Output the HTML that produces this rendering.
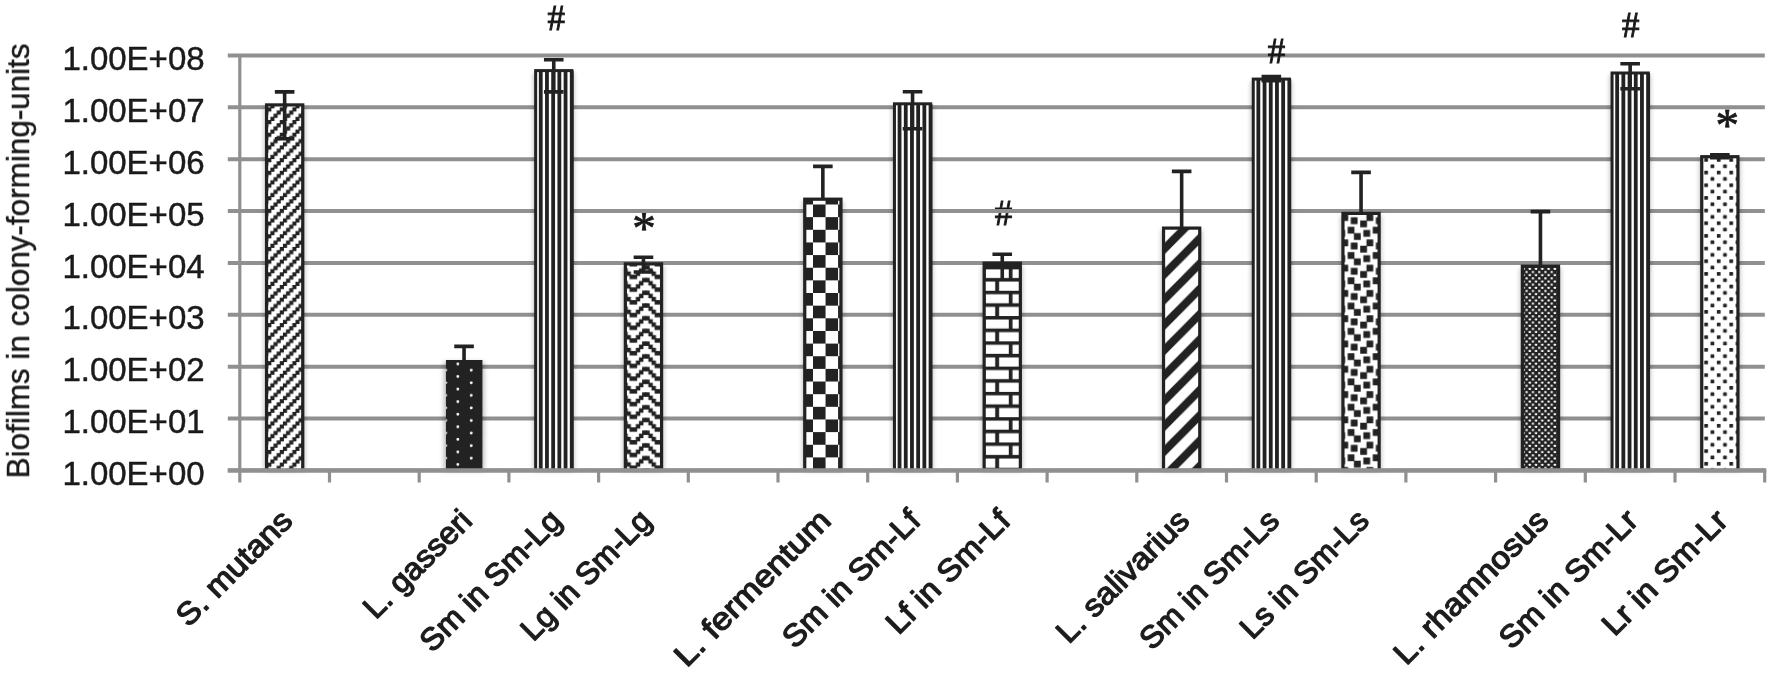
<!DOCTYPE html>
<html lang="en"><head><meta charset="utf-8"><title>Biofilms in colony-forming-units</title>
<style>
html,body{margin:0;padding:0;background:#fff;}
body{width:1772px;height:673px;overflow:hidden;}
svg{display:block;}
.yl{font-family:"Liberation Sans",sans-serif;font-size:33px;fill:#1a1a1a;stroke:#1a1a1a;stroke-width:0.45px;}
.yt{font-family:"Liberation Sans",sans-serif;font-size:30.6px;fill:#1a1a1a;stroke:#1a1a1a;stroke-width:0.4px;}
.xl{font-family:"Liberation Sans",sans-serif;font-size:31px;fill:#1c1c1c;stroke:#1c1c1c;stroke-width:1.3px;stroke-linejoin:round;}
.hs{font-family:"Liberation Serif",serif;font-size:35px;fill:#1a1a1a;stroke:#1a1a1a;stroke-width:0.9px;}
.as{font-family:"Liberation Serif",serif;font-size:47px;fill:#1a1a1a;stroke:#1a1a1a;stroke-width:0.8px;}
</style></head><body>
<svg width="1772" height="673" viewBox="0 0 1772 673">
<rect x="0" y="0" width="1772" height="673" fill="#fff"/>
<defs>
<filter id="sh" x="-40%" y="-5%" width="180%" height="110%"><feGaussianBlur stdDeviation="2.6"/></filter>
<filter id="soft" x="0" y="0" width="100%" height="100%" filterUnits="userSpaceOnUse"><feGaussianBlur stdDeviation="0.45"/></filter>
<pattern id="pDiag" patternUnits="userSpaceOnUse" x="1.27" y="0.00" width="12.540" height="12.688">
<rect x="0" y="0" width="12.540" height="12.688" fill="#fff"/>
<rect x="-3.635" y="-0.500" width="4.135" height="4.172" fill="#222"/><rect x="-3.635" y="12.188" width="4.135" height="4.172" fill="#222"/><rect x="8.905" y="-0.500" width="4.135" height="4.172" fill="#222"/><rect x="8.905" y="12.188" width="4.135" height="4.172" fill="#222"/><rect x="5.770" y="2.672" width="4.135" height="4.172" fill="#222"/><rect x="2.635" y="5.844" width="4.135" height="4.172" fill="#222"/><rect x="-0.500" y="-3.672" width="4.135" height="4.172" fill="#222"/><rect x="-0.500" y="9.016" width="4.135" height="4.172" fill="#222"/><rect x="12.040" y="-3.672" width="4.135" height="4.172" fill="#222"/><rect x="12.040" y="9.016" width="4.135" height="4.172" fill="#222"/>
</pattern>
<pattern id="pDots" patternUnits="userSpaceOnUse" x="444.30" y="362.62" width="25.600" height="12.570">
<rect x="0" y="0" width="25.600" height="12.570" fill="#222"/>
<rect x="12.25" y="0" width="2.6" height="2.6" fill="#fff" rx="0.8"/><rect x="0" y="6.28" width="2.6" height="2.6" fill="#fff" rx="0.8"/>
</pattern>
<pattern id="pZig" patternUnits="userSpaceOnUse" x="645.90" y="278.50" width="25.080" height="12.720">
<rect x="0" y="0" width="25.080" height="12.720" fill="#fff"/>
<rect x="-0.650" y="-0.650" width="4.435" height="4.480" fill="#222"/><rect x="-0.650" y="12.070" width="4.435" height="4.480" fill="#222"/><rect x="24.430" y="-0.650" width="4.435" height="4.480" fill="#222"/><rect x="24.430" y="12.070" width="4.435" height="4.480" fill="#222"/><rect x="-3.785" y="-0.650" width="4.435" height="4.480" fill="#222"/><rect x="-3.785" y="12.070" width="4.435" height="4.480" fill="#222"/><rect x="21.295" y="-0.650" width="4.435" height="4.480" fill="#222"/><rect x="21.295" y="12.070" width="4.435" height="4.480" fill="#222"/><rect x="2.485" y="2.530" width="4.435" height="4.480" fill="#222"/><rect x="18.160" y="2.530" width="4.435" height="4.480" fill="#222"/><rect x="5.620" y="5.710" width="4.435" height="4.480" fill="#222"/><rect x="15.025" y="5.710" width="4.435" height="4.480" fill="#222"/><rect x="8.755" y="-3.830" width="7.570" height="4.480" fill="#222"/><rect x="8.755" y="8.890" width="7.570" height="4.480" fill="#222"/>
</pattern>
<pattern id="pChk" patternUnits="userSpaceOnUse" x="813.00" y="204.50" width="25.080" height="25.290">
<rect x="0" y="0" width="25.080" height="25.290" fill="#fff"/>
<rect x="0" y="0" width="12.54" height="12.645" fill="#222"/><rect x="12.54" y="12.645" width="12.54" height="12.645" fill="#222"/>
</pattern>
<pattern id="pBrk" patternUnits="userSpaceOnUse" x="1008.80" y="265.50" width="26.800" height="25.280">
<rect x="0" y="0" width="26.800" height="25.280" fill="#fff"/>
<rect x="0" y="-0.15" width="26.8" height="3.6" fill="#222"/><rect x="0" y="12.49" width="26.8" height="3.6" fill="#222"/><rect x="-0.2" y="0" width="3.9" height="12.7" fill="#222"/><rect x="13.2" y="12.64" width="3.9" height="12.64" fill="#222"/>
</pattern>
<pattern id="pWide" patternUnits="userSpaceOnUse" x="0.00" y="6.70" width="25.080" height="25.290">
<rect x="0" y="0" width="25.080" height="25.290" fill="#fff"/>
<path d="M-5.02 30.35 L30.10 -5.06 M-5.02 5.06 L5.02 -5.06 M20.06 30.35 L30.10 20.23" stroke="#222" stroke-width="8" fill="none"/>
</pattern>
<pattern id="pConf" patternUnits="userSpaceOnUse" x="1354.20" y="195.43" width="25.080" height="25.288">
<rect x="0" y="0" width="25.080" height="25.288" fill="#fff"/>
<rect x="-0.250" y="-0.250" width="3.635" height="3.661" fill="#222"/><rect x="-0.250" y="25.038" width="3.635" height="3.661" fill="#222"/><rect x="24.830" y="-0.250" width="3.635" height="3.661" fill="#222"/><rect x="24.830" y="25.038" width="3.635" height="3.661" fill="#222"/><rect x="6.020" y="-0.250" width="6.770" height="3.661" fill="#222"/><rect x="6.020" y="25.038" width="6.770" height="3.661" fill="#222"/><rect x="-3.385" y="-0.250" width="3.635" height="3.661" fill="#222"/><rect x="-3.385" y="25.038" width="3.635" height="3.661" fill="#222"/><rect x="21.695" y="-0.250" width="3.635" height="3.661" fill="#222"/><rect x="21.695" y="25.038" width="3.635" height="3.661" fill="#222"/><rect x="6.020" y="2.911" width="6.770" height="3.661" fill="#222"/><rect x="-6.520" y="6.072" width="6.770" height="3.661" fill="#222"/><rect x="18.560" y="6.072" width="6.770" height="3.661" fill="#222"/><rect x="9.155" y="9.233" width="6.770" height="3.661" fill="#222"/><rect x="-6.520" y="9.233" width="6.770" height="3.661" fill="#222"/><rect x="18.560" y="9.233" width="6.770" height="3.661" fill="#222"/><rect x="-0.250" y="12.394" width="6.770" height="3.661" fill="#222"/><rect x="24.830" y="12.394" width="6.770" height="3.661" fill="#222"/><rect x="9.155" y="12.394" width="6.770" height="3.661" fill="#222"/><rect x="-0.250" y="15.555" width="6.770" height="3.661" fill="#222"/><rect x="24.830" y="15.555" width="6.770" height="3.661" fill="#222"/><rect x="12.290" y="18.716" width="6.770" height="3.661" fill="#222"/><rect x="-0.250" y="-3.411" width="3.635" height="3.661" fill="#222"/><rect x="-0.250" y="21.877" width="3.635" height="3.661" fill="#222"/><rect x="24.830" y="-3.411" width="3.635" height="3.661" fill="#222"/><rect x="24.830" y="21.877" width="3.635" height="3.661" fill="#222"/><rect x="12.290" y="-3.411" width="6.770" height="3.661" fill="#222"/><rect x="12.290" y="21.877" width="6.770" height="3.661" fill="#222"/><rect x="-3.385" y="-3.411" width="3.635" height="3.661" fill="#222"/><rect x="-3.385" y="21.877" width="3.635" height="3.661" fill="#222"/><rect x="21.695" y="-3.411" width="3.635" height="3.661" fill="#222"/><rect x="21.695" y="21.877" width="3.635" height="3.661" fill="#222"/>
</pattern>
<pattern id="p50" patternUnits="userSpaceOnUse" x="1.80" y="-1.00" width="6.270" height="6.320">
<rect x="0" y="0" width="6.270" height="6.320" fill="#222"/>
<rect x="0.15" y="0.15" width="2.2" height="2.2" fill="#fff" rx="0.6"/><rect x="3.285" y="3.31" width="2.2" height="2.2" fill="#fff" rx="0.6"/>
</pattern>
<pattern id="pDot2" patternUnits="userSpaceOnUse" x="-1.13" y="6.17" width="12.540" height="12.660">
<rect x="0" y="0" width="12.540" height="12.660" fill="#fff"/>
<rect x="0" y="0" width="3.7" height="3.7" fill="#222" rx="0.5"/><rect x="6.27" y="6.33" width="3.7" height="3.7" fill="#222" rx="0.5"/>
</pattern>
</defs>
<g filter="url(#soft)">
<text class="hs" x="1003.4" y="225.1" text-anchor="middle">#</text>
<text class="as" x="643.9" y="244.2" text-anchor="middle">*</text>
<text class="as" x="1727.3" y="141.0" text-anchor="middle">*</text>
<line x1="227.8" y1="55.40" x2="1764.8" y2="55.40" stroke="#909090" stroke-width="4"/>
<line x1="227.8" y1="107.28" x2="1764.8" y2="107.28" stroke="#909090" stroke-width="4"/>
<line x1="227.8" y1="159.15" x2="1764.8" y2="159.15" stroke="#909090" stroke-width="4"/>
<line x1="227.8" y1="211.03" x2="1764.8" y2="211.03" stroke="#909090" stroke-width="4"/>
<line x1="227.8" y1="262.90" x2="1764.8" y2="262.90" stroke="#909090" stroke-width="4"/>
<line x1="227.8" y1="314.77" x2="1764.8" y2="314.77" stroke="#909090" stroke-width="4"/>
<line x1="227.8" y1="366.65" x2="1764.8" y2="366.65" stroke="#909090" stroke-width="4"/>
<line x1="227.8" y1="418.52" x2="1764.8" y2="418.52" stroke="#909090" stroke-width="4"/>
<line x1="227.8" y1="470.40" x2="1764.8" y2="470.40" stroke="#909090" stroke-width="4"/>
<rect x="264.55" y="106.90" width="40.20" height="363.50" fill="#000" opacity="0.28" filter="url(#sh)"/>
<rect x="266.55" y="104.90" width="36.20" height="365.50" fill="url(#pDiag)" stroke="#222" stroke-width="3.2"/>
<rect x="443.95" y="362.00" width="40.20" height="108.40" fill="#000" opacity="0.28" filter="url(#sh)"/>
<rect x="445.95" y="360.00" width="36.20" height="110.40" fill="url(#pDots)"/>
<rect x="533.65" y="72.60" width="40.20" height="397.80" fill="#000" opacity="0.28" filter="url(#sh)"/>
<rect x="535.65" y="70.60" width="36.20" height="399.80" fill="#fff"/>
<rect x="538.85" y="70.60" width="3.8" height="399.80" fill="#222"/>
<rect x="545.05" y="70.60" width="3.8" height="399.80" fill="#222"/>
<rect x="551.25" y="70.60" width="3.8" height="399.80" fill="#222"/>
<rect x="557.45" y="70.60" width="3.8" height="399.80" fill="#222"/>
<rect x="563.65" y="70.60" width="3.8" height="399.80" fill="#222"/>
<rect x="569.85" y="70.60" width="3.8" height="399.80" fill="#222"/>
<rect x="535.65" y="70.60" width="36.20" height="399.80" fill="none" stroke="#222" stroke-width="3"/>
<rect x="623.35" y="265.90" width="40.20" height="204.50" fill="#000" opacity="0.28" filter="url(#sh)"/>
<rect x="625.35" y="263.90" width="36.20" height="206.50" fill="url(#pZig)" stroke="#222" stroke-width="3.2"/>
<rect x="802.75" y="201.20" width="40.20" height="269.20" fill="#000" opacity="0.28" filter="url(#sh)"/>
<rect x="804.75" y="199.20" width="36.20" height="271.20" fill="url(#pChk)" stroke="#222" stroke-width="3.2"/>
<rect x="892.45" y="105.80" width="40.20" height="364.60" fill="#000" opacity="0.28" filter="url(#sh)"/>
<rect x="894.45" y="103.80" width="36.20" height="366.60" fill="#fff"/>
<rect x="897.65" y="103.80" width="3.8" height="366.60" fill="#222"/>
<rect x="903.85" y="103.80" width="3.8" height="366.60" fill="#222"/>
<rect x="910.05" y="103.80" width="3.8" height="366.60" fill="#222"/>
<rect x="916.25" y="103.80" width="3.8" height="366.60" fill="#222"/>
<rect x="922.45" y="103.80" width="3.8" height="366.60" fill="#222"/>
<rect x="928.65" y="103.80" width="3.8" height="366.60" fill="#222"/>
<rect x="894.45" y="103.80" width="36.20" height="366.60" fill="none" stroke="#222" stroke-width="3"/>
<rect x="982.15" y="265.20" width="40.20" height="205.20" fill="#000" opacity="0.28" filter="url(#sh)"/>
<rect x="984.15" y="263.20" width="36.20" height="207.20" fill="url(#pBrk)" stroke="#222" stroke-width="3.2"/>
<rect x="1161.55" y="230.10" width="40.20" height="240.30" fill="#000" opacity="0.28" filter="url(#sh)"/>
<rect x="1163.55" y="228.10" width="36.20" height="242.30" fill="url(#pWide)" stroke="#222" stroke-width="3.2"/>
<rect x="1251.25" y="81.10" width="40.20" height="389.30" fill="#000" opacity="0.28" filter="url(#sh)"/>
<rect x="1253.25" y="79.10" width="36.20" height="391.30" fill="#fff"/>
<rect x="1256.45" y="79.10" width="3.8" height="391.30" fill="#222"/>
<rect x="1262.65" y="79.10" width="3.8" height="391.30" fill="#222"/>
<rect x="1268.85" y="79.10" width="3.8" height="391.30" fill="#222"/>
<rect x="1275.05" y="79.10" width="3.8" height="391.30" fill="#222"/>
<rect x="1281.25" y="79.10" width="3.8" height="391.30" fill="#222"/>
<rect x="1287.45" y="79.10" width="3.8" height="391.30" fill="#222"/>
<rect x="1253.25" y="79.10" width="36.20" height="391.30" fill="none" stroke="#222" stroke-width="3"/>
<rect x="1340.95" y="215.40" width="40.20" height="255.00" fill="#000" opacity="0.28" filter="url(#sh)"/>
<rect x="1342.95" y="213.40" width="36.20" height="257.00" fill="url(#pConf)" stroke="#222" stroke-width="3.2"/>
<rect x="1520.35" y="268.20" width="40.20" height="202.20" fill="#000" opacity="0.28" filter="url(#sh)"/>
<rect x="1522.35" y="266.20" width="36.20" height="204.20" fill="url(#p50)" stroke="#222" stroke-width="3.2"/>
<rect x="1610.05" y="75.00" width="40.20" height="395.40" fill="#000" opacity="0.28" filter="url(#sh)"/>
<rect x="1612.05" y="73.00" width="36.20" height="397.40" fill="#fff"/>
<rect x="1615.25" y="73.00" width="3.8" height="397.40" fill="#222"/>
<rect x="1621.45" y="73.00" width="3.8" height="397.40" fill="#222"/>
<rect x="1627.65" y="73.00" width="3.8" height="397.40" fill="#222"/>
<rect x="1633.85" y="73.00" width="3.8" height="397.40" fill="#222"/>
<rect x="1640.05" y="73.00" width="3.8" height="397.40" fill="#222"/>
<rect x="1646.25" y="73.00" width="3.8" height="397.40" fill="#222"/>
<rect x="1612.05" y="73.00" width="36.20" height="397.40" fill="none" stroke="#222" stroke-width="3"/>
<rect x="1699.75" y="158.70" width="40.20" height="311.70" fill="#000" opacity="0.28" filter="url(#sh)"/>
<rect x="1701.75" y="156.70" width="36.20" height="313.70" fill="url(#pDot2)" stroke="#222" stroke-width="3.2"/>
<rect x="984.25" y="263" width="36" height="6.2" fill="#222"/>
<rect x="480.95" y="360" width="1.4" height="110" fill="#222"/>
<path d="M274.85 91.90 H294.45 M284.65 91.90 V138.70 M274.85 138.70 H294.45" stroke="#222" stroke-width="3.6" fill="none"/>
<path d="M454.25 346.40 H473.85 M464.05 346.40 V362.00" stroke="#222" stroke-width="3.6" fill="none"/>
<path d="M543.95 59.70 H563.55 M553.75 59.70 V91.90 M543.95 91.90 H563.55" stroke="#222" stroke-width="3.6" fill="none"/>
<path d="M633.65 257.30 H653.25 M643.45 257.30 V272.00 M633.65 272.00 H653.25" stroke="#222" stroke-width="3.6" fill="none"/>
<path d="M813.05 166.40 H832.65 M822.85 166.40 V199.00" stroke="#222" stroke-width="3.6" fill="none"/>
<path d="M902.75 91.75 H922.35 M912.55 91.75 V128.80 M902.75 128.80 H922.35" stroke="#222" stroke-width="3.6" fill="none"/>
<path d="M992.45 254.20 H1012.05 M1002.25 254.20 V279.70" stroke="#222" stroke-width="3.6" fill="none"/>
<path d="M1171.85 171.40 H1191.45 M1181.65 171.40 V228.00" stroke="#222" stroke-width="3.6" fill="none"/>
<path d="M1261.55 76.60 H1281.15 M1271.35 76.60 V80.60 M1261.55 80.60 H1281.15" stroke="#222" stroke-width="3.6" fill="none"/>
<path d="M1351.25 172.40 H1370.85 M1361.05 172.40 V213.00" stroke="#222" stroke-width="3.6" fill="none"/>
<path d="M1530.65 211.60 H1550.25 M1540.45 211.60 V266.00" stroke="#222" stroke-width="3.6" fill="none"/>
<path d="M1620.35 63.70 H1639.95 M1630.15 63.70 V88.80 M1620.35 88.80 H1639.95" stroke="#222" stroke-width="3.6" fill="none"/>
<path d="M1710.05 154.80 H1729.65 M1719.85 154.80 V157.60 M1710.05 157.60 H1729.65" stroke="#222" stroke-width="3.6" fill="none"/>
<line x1="239.80" y1="54.5" x2="239.80" y2="482.5" stroke="#909090" stroke-width="3.2"/>
<line x1="227.8" y1="470.40" x2="1766.3" y2="470.40" stroke="#909090" stroke-width="4.2"/>
<line x1="329.50" y1="470.40" x2="329.50" y2="482.5" stroke="#909090" stroke-width="3.2"/>
<line x1="419.20" y1="470.40" x2="419.20" y2="482.5" stroke="#909090" stroke-width="3.2"/>
<line x1="508.90" y1="470.40" x2="508.90" y2="482.5" stroke="#909090" stroke-width="3.2"/>
<line x1="598.60" y1="470.40" x2="598.60" y2="482.5" stroke="#909090" stroke-width="3.2"/>
<line x1="688.30" y1="470.40" x2="688.30" y2="482.5" stroke="#909090" stroke-width="3.2"/>
<line x1="778.00" y1="470.40" x2="778.00" y2="482.5" stroke="#909090" stroke-width="3.2"/>
<line x1="867.70" y1="470.40" x2="867.70" y2="482.5" stroke="#909090" stroke-width="3.2"/>
<line x1="957.40" y1="470.40" x2="957.40" y2="482.5" stroke="#909090" stroke-width="3.2"/>
<line x1="1047.10" y1="470.40" x2="1047.10" y2="482.5" stroke="#909090" stroke-width="3.2"/>
<line x1="1136.80" y1="470.40" x2="1136.80" y2="482.5" stroke="#909090" stroke-width="3.2"/>
<line x1="1226.50" y1="470.40" x2="1226.50" y2="482.5" stroke="#909090" stroke-width="3.2"/>
<line x1="1316.20" y1="470.40" x2="1316.20" y2="482.5" stroke="#909090" stroke-width="3.2"/>
<line x1="1405.90" y1="470.40" x2="1405.90" y2="482.5" stroke="#909090" stroke-width="3.2"/>
<line x1="1495.60" y1="470.40" x2="1495.60" y2="482.5" stroke="#909090" stroke-width="3.2"/>
<line x1="1585.30" y1="470.40" x2="1585.30" y2="482.5" stroke="#909090" stroke-width="3.2"/>
<line x1="1675.00" y1="470.40" x2="1675.00" y2="482.5" stroke="#909090" stroke-width="3.2"/>
<line x1="1764.70" y1="470.40" x2="1764.70" y2="482.5" stroke="#909090" stroke-width="3.2"/>
<text class="hs" x="556.2" y="29.6" text-anchor="middle">#</text>
<text class="hs" x="1276.4" y="63.0" text-anchor="middle">#</text>
<text class="hs" x="1630.7" y="37.3" text-anchor="middle">#</text>
<text class="yl" x="204.6" y="70.0" text-anchor="end">1.00E+08</text>
<text class="yl" x="204.6" y="121.9" text-anchor="end">1.00E+07</text>
<text class="yl" x="204.6" y="173.8" text-anchor="end">1.00E+06</text>
<text class="yl" x="204.6" y="225.6" text-anchor="end">1.00E+05</text>
<text class="yl" x="204.6" y="277.5" text-anchor="end">1.00E+04</text>
<text class="yl" x="204.6" y="329.4" text-anchor="end">1.00E+03</text>
<text class="yl" x="204.6" y="381.2" text-anchor="end">1.00E+02</text>
<text class="yl" x="204.6" y="433.1" text-anchor="end">1.00E+01</text>
<text class="yl" x="204.6" y="485.0" text-anchor="end">1.00E+00</text>
<text class="yt" transform="translate(29 478.4) rotate(-90)" x="0" y="0" textLength="435" lengthAdjust="spacingAndGlyphs">Biofilms in colony-forming-units</text>
<text class="xl" transform="translate(294.3 522.4) rotate(-45)" x="-149.5" y="0" textLength="149.5" lengthAdjust="spacingAndGlyphs">S. mutans</text>
<text class="xl" transform="translate(473.7 522.4) rotate(-45)" x="-138.5" y="0" textLength="138.5" lengthAdjust="spacingAndGlyphs">L. gasseri</text>
<text class="xl" transform="translate(563.4 522.4) rotate(-45)" x="-185.4" y="0" textLength="185.4" lengthAdjust="spacingAndGlyphs">Sm in Sm-Lg</text>
<text class="xl" transform="translate(653.1 522.4) rotate(-45)" x="-169.5" y="0" textLength="169.5" lengthAdjust="spacingAndGlyphs">Lg in Sm-Lg</text>
<text class="xl" transform="translate(832.5 522.4) rotate(-45)" x="-206.3" y="0" textLength="206.3" lengthAdjust="spacingAndGlyphs">L. fermentum</text>
<text class="xl" transform="translate(922.1 522.4) rotate(-45)" x="-180.0" y="0" textLength="180.0" lengthAdjust="spacingAndGlyphs">Sm in Sm-Lf</text>
<text class="xl" transform="translate(1011.9 522.4) rotate(-45)" x="-160.4" y="0" textLength="160.4" lengthAdjust="spacingAndGlyphs">Lf in Sm-Lf</text>
<text class="xl" transform="translate(1191.2 522.4) rotate(-45)" x="-173.2" y="0" textLength="173.2" lengthAdjust="spacingAndGlyphs">L. salivarius</text>
<text class="xl" transform="translate(1280.9 522.4) rotate(-45)" x="-182.2" y="0" textLength="182.2" lengthAdjust="spacingAndGlyphs">Sm in Sm-Ls</text>
<text class="xl" transform="translate(1370.6 522.4) rotate(-45)" x="-166.9" y="0" textLength="166.9" lengthAdjust="spacingAndGlyphs">Ls in Sm-Ls</text>
<text class="xl" transform="translate(1550.0 522.4) rotate(-45)" x="-203.3" y="0" textLength="203.3" lengthAdjust="spacingAndGlyphs">L. rhamnosus</text>
<text class="xl" transform="translate(1639.8 522.4) rotate(-45)" x="-181.3" y="0" textLength="181.3" lengthAdjust="spacingAndGlyphs">Sm in Sm-Lr</text>
<text class="xl" transform="translate(1729.4 522.4) rotate(-45)" x="-162.5" y="0" textLength="162.5" lengthAdjust="spacingAndGlyphs">Lr in Sm-Lr</text>
</g>
</svg></body></html>
